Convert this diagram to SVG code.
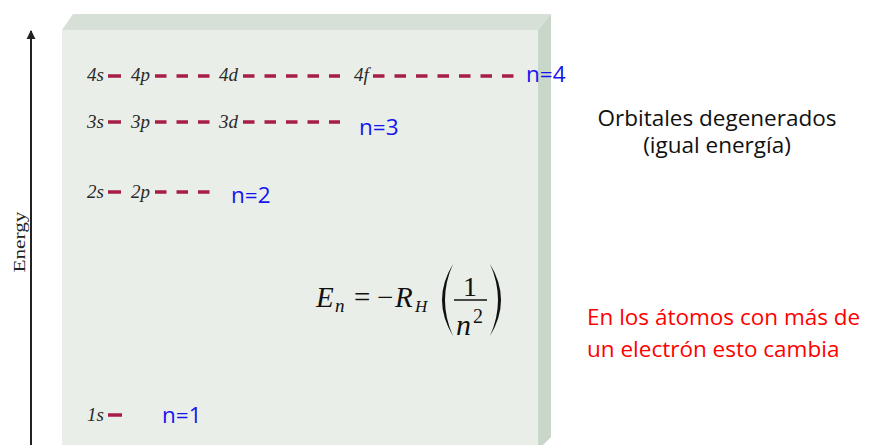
<svg xmlns="http://www.w3.org/2000/svg" width="870" height="445" viewBox="0 0 870 445">
<style>
.orb{font-family:"Liberation Serif","Times New Roman",serif;font-style:italic;font-size:19px;fill:#2a2a2a}
.lvl{stroke:#a61e44;stroke-width:3.5;fill:none}
.dash{stroke-dasharray:11.5 10}
.nlab{font-family:"Open Sans","Noto Sans",sans-serif;font-size:22.5px;fill:#1414f0}
.math{font-family:"Liberation Serif","Times New Roman",serif;fill:#111}
.it{font-style:italic}
.note{font-family:"Open Sans","Noto Sans",sans-serif;font-size:22.5px}
</style>
<defs>
<marker id="arr" viewBox="0 0 10 10" refX="9" refY="5" markerWidth="9" markerHeight="18" markerUnits="userSpaceOnUse" orient="auto">
<path d="M0,0 L10,5 L0,10 Z" fill="#222"/>
</marker>
</defs>
<rect width="870" height="445" fill="#ffffff"/>
<g id="box">
<polygon points="62,30 73,14 551,14 538,30" fill="#d6e0d7"/>
<polygon points="538,30 551,14 551,437 543,445 538,445" fill="#c9d7ca"/>
<rect x="62" y="30" width="476" height="415" fill="#e9eee9"/>
</g>
<g id="axis">
<line x1="31" y1="445" x2="31" y2="31" stroke="#222" stroke-width="2" marker-end="url(#arr)"/>
<text transform="translate(25,242) rotate(-90)" text-anchor="middle" font-family="Liberation Serif,Times New Roman,serif" font-size="17" fill="#222" textLength="61" lengthAdjust="spacingAndGlyphs">Energy</text>
</g>
<g id="level-n4">
<text class="orb" x="87" y="81">4s</text>
<text class="orb" x="131" y="81">4p</text>
<text class="orb" x="219" y="81">4d</text>
<text class="orb" x="354" y="81">4f</text>
<line class="lvl" x1="108" y1="76" x2="121" y2="76"/>
<line class="lvl dash" x1="155" y1="76" x2="210" y2="76"/>
<line class="lvl dash" x1="243" y1="76" x2="340" y2="76"/>
<line class="lvl dash" x1="373" y1="76" x2="514" y2="76"/>
<text class="nlab" x="526" y="82">n=4</text>
</g>
<g id="level-n3">
<text class="orb" x="87" y="128">3s</text>
<text class="orb" x="131" y="128">3p</text>
<text class="orb" x="219" y="128">3d</text>
<line class="lvl" x1="108" y1="122" x2="121" y2="122"/>
<line class="lvl dash" x1="155" y1="122" x2="210" y2="122"/>
<line class="lvl dash" x1="243" y1="122" x2="340" y2="122"/>
<text class="nlab" x="359" y="135">n=3</text>
</g>
<g id="level-n2">
<text class="orb" x="87" y="198">2s</text>
<text class="orb" x="131" y="198">2p</text>
<line class="lvl" x1="108" y1="192" x2="121" y2="192"/>
<line class="lvl dash" x1="155" y1="192" x2="210" y2="192"/>
<text class="nlab" x="231" y="203">n=2</text>
</g>
<g id="level-n1">
<text class="orb" x="87" y="421">1s</text>
<line class="lvl" x1="108" y1="415" x2="122" y2="415"/>
<text class="nlab" x="162" y="423">n=1</text>
</g>
<g id="formula">
<text class="math it" x="316" y="307" font-size="29">E</text>
<text class="math it" x="335" y="312" font-size="19">n</text>
<text class="math" x="354" y="307" font-size="29">=</text>
<text class="math" x="377" y="307" font-size="29">−</text>
<text class="math it" x="395" y="307" font-size="29">R</text>
<text class="math it" x="415" y="312" font-size="17">H</text>
<path d="M453,264 Q431,300 453,336 Q437,300 453,264 Z" fill="#111"/>
<text class="math" x="463" y="296" font-size="28">1</text>
<line x1="454" y1="300" x2="487" y2="300" stroke="#111" stroke-width="1.5"/>
<text class="math it" x="456" y="335" font-size="30">n</text>
<text class="math" x="473" y="323" font-size="20">2</text>
<path d="M490,264 Q512,300 490,336 Q506,300 490,264 Z" fill="#111"/>
</g>
<g id="note-degenerados">
<text class="note" x="717" y="126" text-anchor="middle" fill="#111">Orbitales degenerados</text>
<text class="note" x="717" y="153" text-anchor="middle" fill="#111">(igual energía)</text>
</g>
<g id="note-cambia">
<text class="note" x="587" y="325" fill="#ff0000">En los átomos con más de</text>
<text class="note" x="587" y="357" fill="#ff0000">un electrón esto cambia</text>
</g>
</svg>
